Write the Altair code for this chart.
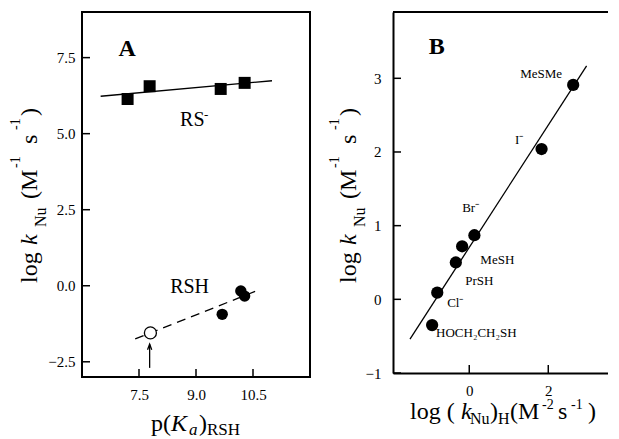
import altair as alt
import pandas as pd

FONT = "Liberation Serif"

# ---------------- Panel A data ----------------
rs_pka = [7.2, 7.78, 9.65, 10.28]
rs_logk = [6.14, 6.56, 6.47, 6.67]
rsh_pka = [9.69, 10.18, 10.28]
rsh_logk = [-0.94, -0.17, -0.34]
est_pka = [7.8]
est_logk = [-1.55]
rs_fit_x = [6.49, 11.0]
rs_fit_y = [6.23, 6.74]
rsh_fit_x = [7.4, 10.59]
rsh_fit_y = [-1.75, -0.17]
arrow_x = [7.78, 7.78]
arrow_y = [-2.7, -1.92]
a_xticks = [7.5, 9.0, 10.5]
a_yticks = [-2.5, 0.0, 2.5, 5.0, 7.5]
a_labels = ["RS", "RSH"]
a_label_x = [8.58, 8.32]
a_label_y = [5.26, -0.24]

# ---------------- Panel B data ----------------
nu_names = ["MeSMe", "I⁻", "MeSH", "Br⁻", "PrSH", "Cl⁻", "HOCH₂CH₂SH"]
nu_logkh = [2.63, 1.83, 0.13, -0.18, -0.34, -0.81, -0.94]
nu_logk = [2.91, 2.04, 0.87, 0.72, 0.50, 0.09, -0.35]
nu_label_x = [1.29, 1.16, 0.28, -0.18, -0.10, -0.56, -0.84]
nu_label_y = [3.0, 2.11, 0.48, 1.19, 0.20, -0.10, -0.51]
b_fit_x = [-1.5, 2.97]
b_fit_y = [-0.54, 3.17]
b_xticks = [0, 2]
b_yticks = [-1, 0, 1, 2, 3]

A_W, A_H = 228, 365
B_W, B_H = 226, 361
TICK = 8

xa = alt.Scale(domain=[6, 12], nice=False, zero=False)
ya = alt.Scale(domain=[-3, 9], nice=False, zero=False)
xb = alt.Scale(domain=[-1.93, 3.79], nice=False, zero=False)
yb = alt.Scale(domain=[-1, 3.9], nice=False, zero=False)

lab = dict(labelFont=FONT, labelFontSize=15, labelColor="black", grid=False,
           ticks=False, tickSize=0, title=None)
axis_xa = alt.Axis(values=a_xticks, format=".1f", domain=False, labelPadding=10, **lab)
axis_ya = alt.Axis(values=a_yticks, format=".1f", domain=False, labelPadding=7, **lab)
axis_xb = alt.Axis(values=b_xticks, format="d", domain=True, domainColor="black",
                   domainWidth=2, labelPadding=10, **lab)
axis_yb = alt.Axis(values=b_yticks, format="d", domain=True, domainColor="black",
                   domainWidth=2, labelPadding=12, **lab)


def XA(f="x"):
    return alt.X(f"{f}:Q", scale=xa, axis=axis_xa)


def YA(f="y"):
    return alt.Y(f"{f}:Q", scale=ya, axis=axis_ya)


def XB(f="x"):
    return alt.X(f"{f}:Q", scale=xb, axis=axis_xb)


def YB(f="y"):
    return alt.Y(f"{f}:Q", scale=yb, axis=axis_yb)


def piece(text, x, y, size, angle=0, italic=False, bold=False):
    return alt.Chart(pd.DataFrame({"t": [text]})).mark_text(
        align="left", baseline="alphabetic", angle=angle, font=FONT, fontSize=size,
        fontStyle="italic" if italic else "normal",
        fontWeight="bold" if bold else "normal", color="black",
    ).encode(x=alt.value(x), y=alt.value(y), text="t:N")


def ytitle(base_x):
    # log k_Nu (M^-1 s^-1), rotated
    return [
        piece("log", base_x, 271, 24, 270),
        piece("k", base_x, 233, 24, 270, italic=True),
        piece("Nu", base_x + 9, 215, 16, 270),
        piece("(M", base_x, 187, 24, 270),
        piece("-1", base_x - 17, 156, 14, 270),
        piece("s", base_x, 132, 24, 270),
        piece("-1", base_x - 17, 118, 14, 270),
        piece(")", base_x, 104, 24, 270),
    ]


# ---------------- Panel A ----------------
a_layers = []
a_layers.append(alt.Chart(pd.DataFrame({"v": a_yticks})).mark_rule(color="black", strokeWidth=1.5)
                .encode(y=YA("v"), x=alt.value(0), x2=alt.value(TICK)))
a_layers.append(alt.Chart(pd.DataFrame({"v": a_xticks})).mark_rule(color="black", strokeWidth=1.5)
                .encode(x=XA("v"), y=alt.value(A_H), y2=alt.value(A_H - TICK)))
a_layers.append(alt.Chart(pd.DataFrame({"x": rs_fit_x, "y": rs_fit_y})).mark_line(color="black", strokeWidth=1.3)
                .encode(x=XA(), y=YA()))
a_layers.append(alt.Chart(pd.DataFrame({"x": rsh_fit_x, "y": rsh_fit_y})).mark_line(color="black", strokeWidth=1.3, strokeDash=[9, 6])
                .encode(x=XA(), y=YA()))
a_layers.append(alt.Chart(pd.DataFrame({"x": arrow_x, "y": arrow_y})).mark_line(color="black", strokeWidth=1.3)
                .encode(x=XA(), y=YA()))
a_layers.append(alt.Chart(pd.DataFrame({"x": arrow_x[1:], "y": arrow_y[1:]}))
                .mark_point(shape="M -0.6 1.6 L 0 0 L 0.6 1.6", size=49, filled=False, color="black", strokeWidth=1.3, opacity=1)
                .encode(x=XA(), y=YA()))
a_layers.append(alt.Chart(pd.DataFrame({"x": rs_pka, "y": rs_logk})).mark_square(size=144, color="black", opacity=1)
                .encode(x=XA(), y=YA()))
a_layers.append(alt.Chart(pd.DataFrame({"x": rsh_pka, "y": rsh_logk})).mark_circle(size=130, color="black", opacity=1)
                .encode(x=XA(), y=YA()))
a_layers.append(alt.Chart(pd.DataFrame({"x": est_pka, "y": est_logk}))
                .mark_point(shape="circle", size=144, filled=True, fill="white", stroke="black", strokeWidth=1.3, opacity=1)
                .encode(x=XA(), y=YA()))
a_layers.append(alt.Chart(pd.DataFrame({"t": a_labels, "x": a_label_x, "y": a_label_y}))
                .mark_text(align="left", baseline="alphabetic", font=FONT, fontSize=20, color="black")
                .encode(x=XA(), y=YA(), text="t:N"))
a_layers.append(alt.Chart(pd.DataFrame({"t": ["-"], "x": a_label_x[:1], "y": a_label_y[:1]}))
                .mark_text(align="left", baseline="alphabetic", font=FONT, fontSize=13, dx=24, dy=-7, color="black")
                .encode(x=XA(), y=YA(), text="t:N"))
a_layers.append(alt.Chart(pd.DataFrame({"t": ["A"], "x": [7.19], "y": [7.78]}))
                .mark_text(align="center", baseline="middle", font=FONT, fontSize=24, fontWeight="bold", color="black")
                .encode(x=XA(), y=YA(), text="t:N"))
a_layers += ytitle(-45)
a_layers += [
    piece("p(", 69, 419, 24),
    piece("K", 89, 419, 24, italic=True),
    piece("a", 107, 423, 17, italic=True),
    piece(")", 117, 419, 24),
    piece("RSH", 125, 423, 17),
]
chart_a = alt.layer(*a_layers).properties(
    width=A_W, height=A_H, view=alt.ViewBackground(stroke="black", strokeWidth=2)
)

# ---------------- Panel B ----------------
b_layers = []
b_layers.append(alt.Chart(pd.DataFrame({"v": b_yticks})).mark_rule(color="black", strokeWidth=1.5)
                .encode(y=YB("v"), x=alt.value(0), x2=alt.value(TICK)))
b_layers.append(alt.Chart(pd.DataFrame({"v": b_xticks})).mark_rule(color="black", strokeWidth=1.5)
                .encode(x=XB("v"), y=alt.value(B_H), y2=alt.value(B_H - TICK)))
b_layers.append(alt.Chart(pd.DataFrame({"v": [0]})).mark_rule(color="black", strokeWidth=2)
                .encode(y=alt.value(0), x=alt.value(0), x2=alt.value(B_W)))
b_layers.append(alt.Chart(pd.DataFrame({"x": b_fit_x, "y": b_fit_y})).mark_line(color="black", strokeWidth=1.3)
                .encode(x=XB(), y=YB()))
b_layers.append(alt.Chart(pd.DataFrame({"n": nu_names, "x": nu_logkh, "y": nu_logk}))
                .mark_circle(size=150, color="black", opacity=1)
                .encode(x=XB(), y=YB()))
b_layers.append(alt.Chart(pd.DataFrame({"t": nu_names, "x": nu_label_x, "y": nu_label_y}))
                .mark_text(align="left", baseline="alphabetic", font=FONT, fontSize=13, color="black")
                .encode(x=XB(), y=YB(), text="t:N"))
b_layers.append(alt.Chart(pd.DataFrame({"t": ["B"], "x": [-0.82], "y": [3.425]}))
                .mark_text(align="center", baseline="middle", font=FONT, fontSize=24, fontWeight="bold", color="black")
                .encode(x=XB(), y=YB(), text="t:N"))
b_layers += ytitle(-37)
b_layers += [
    piece("log (", 17, 407, 24),
    piece("k", 68, 407, 24, italic=True),
    piece("Nu", 77, 412, 16),
    piece(")", 97, 407, 24),
    piece("H", 105, 412, 16),
    piece("(M", 117, 407, 24),
    piece("-2", 149, 397, 14),
    piece("s", 165, 407, 24),
    piece("-1", 178, 397, 14),
    piece(")", 195, 407, 24),
]
chart_b = alt.layer(*b_layers).properties(
    width=B_W, height=B_H, view=alt.ViewBackground(stroke="transparent", strokeWidth=0)
)

chart = alt.hconcat(chart_a, chart_b, spacing=17).properties(
    padding={"left": 0, "top": 3, "right": -12, "bottom": 0},
    background="white",
).configure_view(strokeWidth=0)

chart.save("out.html", embed_options={"renderer": "svg", "actions": False})
